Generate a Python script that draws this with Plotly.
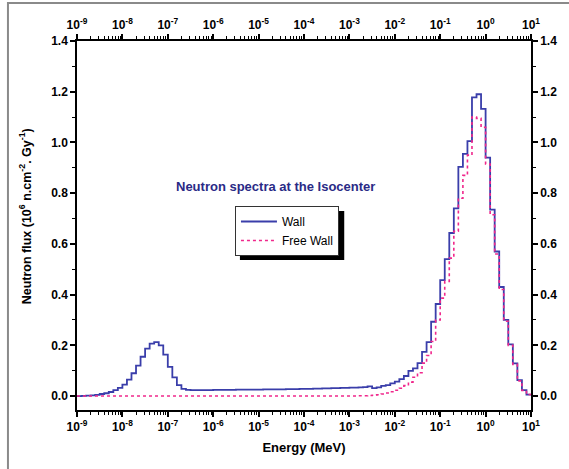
import numpy as np
import plotly.graph_objects as go

# Energy bins: 10 per decade from 1e-9 to 1e1 MeV (left edges + final right edge)
decade_start = -9
decade_stop = 1
bins_per_decade = 10
edges = 10.0 ** np.linspace(decade_start, decade_stop,
                            (decade_stop - decade_start) * bins_per_decade + 1)

# Neutron flux per bin (10^6 n.cm^-2.Gy^-1)
wall = [
    0.000, 0.001, 0.002, 0.003, 0.005, 0.008, 0.011, 0.016, 0.023, 0.032,
    0.045, 0.065, 0.090, 0.120, 0.155, 0.187, 0.207, 0.213, 0.200, 0.163,
    0.115, 0.074, 0.043, 0.028, 0.024, 0.023, 0.023, 0.023, 0.023, 0.023,
    0.024, 0.024, 0.024, 0.024, 0.024, 0.025, 0.025, 0.025, 0.025, 0.025,
    0.025, 0.026, 0.026, 0.026, 0.026, 0.026, 0.027, 0.027, 0.027, 0.028,
    0.028, 0.028, 0.029, 0.029, 0.030, 0.030, 0.031, 0.031, 0.032, 0.032,
    0.033, 0.033, 0.034, 0.035, 0.038, 0.031, 0.034, 0.040, 0.043, 0.050,
    0.057, 0.067, 0.079, 0.099, 0.109, 0.130, 0.174, 0.213, 0.293, 0.363,
    0.457, 0.540, 0.643, 0.740, 0.904, 0.955, 1.005, 1.178, 1.190, 1.132,
    0.940, 0.735, 0.570, 0.430, 0.300, 0.204, 0.129, 0.063, 0.023, 0.006,
]
free_wall = [
    0.000, 0.000, 0.000, 0.000, 0.000, 0.000, 0.000, 0.000, 0.000, 0.000,
    0.000, 0.000, 0.000, 0.000, 0.000, 0.000, 0.000, 0.000, 0.000, 0.000,
    0.000, 0.000, 0.000, 0.000, 0.000, 0.000, 0.000, 0.000, 0.000, 0.000,
    0.000, 0.000, 0.000, 0.000, 0.000, 0.000, 0.000, 0.000, 0.000, 0.000,
    0.000, 0.000, 0.000, 0.000, 0.000, 0.000, 0.000, 0.000, 0.000, 0.000,
    0.000, 0.000, 0.000, 0.000, 0.000, 0.000, 0.000, 0.000, 0.000, 0.000,
    0.000, 0.000, 0.001, 0.001, 0.002, 0.003, 0.005, 0.008, 0.012, 0.017,
    0.023, 0.031, 0.041, 0.055, 0.074, 0.092, 0.130, 0.160, 0.215, 0.300,
    0.386, 0.452, 0.544, 0.650, 0.780, 0.870, 0.950, 1.100, 1.095, 1.060,
    0.915, 0.715, 0.560, 0.420, 0.295, 0.200, 0.125, 0.060, 0.022, 0.006,
]

x_tick_exps = list(range(-9, 2))
x_tick_vals = [10.0 ** e for e in x_tick_exps]
x_tick_text = [f"10<sup>{e}</sup>" for e in x_tick_exps]
x_minor_vals = [m * 10.0 ** e for e in range(-9, 1) for m in range(2, 10)]
y_tick_vals = [0.0, 0.2, 0.4, 0.6, 0.8, 1.0, 1.2, 1.4]
y_tick_text = [f"{v:.1f}" for v in y_tick_vals]

FONT = "Arial, Liberation Sans, sans-serif"
BLUE = "#3a3eaa"
PINK = "#f0288c"

# plot-area geometry in pixels (used to place paper-referenced decorations)
W, H = 569, 469
ML, MR, MT, MB = 77, 35, 41, 59
PW, PH = W - ML - MR, H - MT - MB


def px_x(p):
    return (p - ML) / PW


def px_y(p):
    return (H - MB - p) / PH


fig = go.Figure()
fig.add_trace(go.Scatter(
    x=edges, y=wall + [wall[-1]], mode="lines", name="Wall",
    line=dict(color=BLUE, width=1.8, shape="hv"),
))
fig.add_trace(go.Scatter(
    x=edges, y=free_wall + [free_wall[-1]], mode="lines", name="Free Wall",
    line=dict(color=PINK, width=1.6, shape="hv", dash="dot"),
))
# carrier trace for the mirrored top/right axes
fig.add_trace(go.Scatter(
    x=[edges[0]], y=[0], xaxis="x2", yaxis="y2", mode="markers",
    marker=dict(opacity=0), showlegend=False, hoverinfo="skip",
))

x_range = [decade_start, decade_stop]
y_range = [-0.055, 1.4]

tick_font = dict(family=FONT, size=12, color="black", weight="bold")
common_x = dict(
    type="log", range=x_range, tickvals=x_tick_vals, ticktext=x_tick_text,
    ticks="outside", ticklen=5, tickwidth=1.5, tickcolor="black",
    showline=True, linecolor="black", linewidth=1.5, showgrid=False,
    zeroline=False,
    minor=dict(tickvals=x_minor_vals, ticks="outside", ticklen=3,
               tickwidth=1, tickcolor="black", showgrid=False),
    tickfont=tick_font,
)
common_y = dict(
    range=y_range, tickvals=y_tick_vals, ticktext=y_tick_text,
    ticks="outside", ticklen=5, tickwidth=1.5, tickcolor="black",
    showline=True, linecolor="black", linewidth=1.5, showgrid=False,
    zeroline=False,
    minor=dict(dtick=0.1, tick0=0, ticks="outside", ticklen=3,
               tickwidth=1, tickcolor="black", showgrid=False),
    tickfont=tick_font,
)

fig.update_layout(
    width=W, height=H,
    margin=dict(l=ML, r=MR, t=MT, b=MB),
    paper_bgcolor="white", plot_bgcolor="white",
    xaxis=dict(**common_x,
               title=dict(text="Energy (MeV)", standoff=10,
                          font=dict(family=FONT, size=13, color="black",
                                    weight="bold"))),
    xaxis2=dict(**common_x, overlaying="x", side="top", anchor="y"),
    yaxis=dict(**common_y),
    yaxis2=dict(**common_y, overlaying="y", side="right", anchor="x"),
    showlegend=True,
    legend=dict(
        x=px_x(236), y=px_y(206), xanchor="left", yanchor="top",
        bgcolor="white", bordercolor="#333", borderwidth=1,
        font=dict(family=FONT, size=12, color="black"),
        itemwidth=36, tracegroupgap=0,
    ),
    annotations=[
        dict(text="Neutron spectra at the Isocenter", xref="paper",
             yref="paper", x=px_x(277), y=px_y(186), xanchor="center",
             yanchor="middle", showarrow=False,
             font=dict(family=FONT, size=13, color="#2a2a86",
                       weight="bold")),
        dict(text="Neutron flux (10<sup>6</sup> n.cm<sup>-2</sup>. Gy<sup>-1</sup>)",
             xref="paper", yref="paper", x=px_x(25), y=px_y(216),
             xanchor="center", yanchor="middle", textangle=-90,
             showarrow=False,
             font=dict(family=FONT, size=12.5, color="black",
                       weight="bold")),
    ],
    shapes=[
        # drop shadow under the legend box
        dict(type="rect", xref="paper", yref="paper",
             x0=px_x(241), x1=px_x(346), y0=px_y(260), y1=px_y(211),
             fillcolor="black", line=dict(width=0), layer="above"),
        # outer frame around the figure
        dict(type="rect", xref="paper", yref="paper",
             x0=px_x(7.5), x1=2.0, y0=-1.0, y1=px_y(3),
             line=dict(color="#8a8a8a", width=2), fillcolor="rgba(0,0,0,0)"),
    ],
)

fig.write_html("out.html")
